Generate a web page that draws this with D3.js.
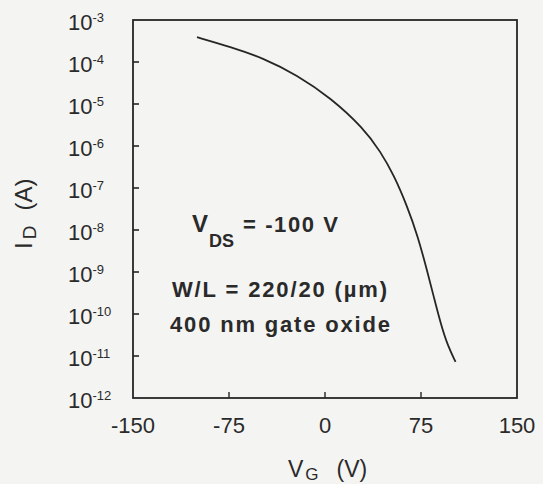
<!DOCTYPE html>
<html>
<head>
<meta charset="utf-8">
<script src="https://cdn.jsdelivr.net/npm/d3@7"></script>
<style>
  html, body { margin: 0; padding: 0; background: #f4f4f2; }
  svg { display: block; font-family: "Liberation Sans", Arial, sans-serif; }
  text { fill: #2a2a2a; }
</style>
</head>
<body>
<svg id="chart" width="543" height="484"></svg>
<script>
// gate voltage (V) and drain current (log10 A)
const vg = [-100, -74, -48, -22, 4.3, 30.2, 43.5, 53.9, 64.4, 72.2, 80.1, 85.2, 90.5, 95.7, 102];
const logId = [-3.41, -3.64, -3.91, -4.31, -4.85, -5.58, -6.14, -6.7, -7.45, -8.12, -9.0, -9.62, -10.24, -10.74, -11.14];

const xTicks = [-150, -75, 0, 75, 150];
const yExponents = [-3, -4, -5, -6, -7, -8, -9, -10, -11, -12];

const svg = d3.select('#chart');
const ink = '#262626';

const x = d3.scaleLinear().domain([-150, 150]).range([133, 517]);
const y = d3.scaleLog().domain([1e-12, 1e-3]).range([398, 20]);

// frame
svg.append('rect')
  .attr('x', x(-150)).attr('y', y(1e-3))
  .attr('width', x(150) - x(-150)).attr('height', y(1e-12) - y(1e-3))
  .attr('fill', 'none').attr('stroke', ink).attr('stroke-width', 1.8);

// y ticks (inward) + labels
const yg = svg.append('g');
yg.selectAll('line')
  .data(yExponents.slice(1, -1))
  .join('line')
  .attr('x1', x(-150)).attr('x2', x(-150) + 6)
  .attr('y1', d => y(Math.pow(10, d))).attr('y2', d => y(Math.pow(10, d)))
  .attr('stroke', ink).attr('stroke-width', 1.6);

const yl = yg.selectAll('text')
  .data(yExponents)
  .join('text')
  .attr('x', 68)
  .attr('y', d => y(Math.pow(10, d)) + 10)
  .attr('font-size', 22);
yl.append('tspan').text('10');
yl.append('tspan').attr('dy', -8).attr('font-size', 13).text(d => '-' + Math.abs(d));

// x ticks (inward) + labels
const xg = svg.append('g');
xg.selectAll('line')
  .data(xTicks.slice(1, -1))
  .join('line')
  .attr('x1', d => x(d)).attr('x2', d => x(d))
  .attr('y1', y(1e-12)).attr('y2', y(1e-12) - 6)
  .attr('stroke', ink).attr('stroke-width', 1.4);
xg.selectAll('text')
  .data(xTicks)
  .join('text')
  .attr('x', d => x(d))
  .attr('y', 433)
  .attr('text-anchor', 'middle')
  .attr('font-size', 22)
  .text(d => d);

// curve
const line = d3.line()
  .x((d, i) => x(vg[i]))
  .y(d => y(Math.pow(10, d)))
  .curve(d3.curveBasis);
svg.append('path')
  .datum(logId)
  .attr('d', line)
  .attr('fill', 'none')
  .attr('stroke', ink)
  .attr('stroke-width', 1.8);

// axis titles
const xt = svg.append('text').attr('x', 288).attr('y', 477).attr('font-size', 23);
xt.append('tspan').text('V');
xt.append('tspan').attr('dy', 3).attr('dx', 2).attr('font-size', 17).text('G');
xt.append('tspan').attr('dy', -3).attr('dx', 18).text('(V)');

const yt = svg.append('text')
  .attr('transform', 'translate(32,249) rotate(-90)')
  .attr('font-size', 24);
yt.append('tspan').text('I');
yt.append('tspan').attr('dy', 4).attr('dx', 3).attr('font-size', 19).text('D');
yt.append('tspan').attr('dy', -4).attr('dx', 15).text('(A)');

// annotations
const a1 = svg.append('text').attr('x', 192).attr('y', 232).attr('font-size', 24).attr('font-weight', 'bold');
a1.append('tspan').text('V');
a1.append('tspan').attr('dy', 15).attr('dx', 1).attr('font-size', 18).text('DS');
svg.append('text').attr('x', 243).attr('y', 232).attr('font-size', 22).attr('font-weight', 'bold')
  .attr('textLength', 95).text('= -100 V');

svg.append('text').attr('x', 172).attr('y', 297).attr('font-size', 22).attr('font-weight', 'bold')
  .attr('textLength', 215).text('W/L = 220/20 (\u00b5m)');
svg.append('text').attr('x', 170).attr('y', 332).attr('font-size', 22).attr('font-weight', 'bold')
  .attr('textLength', 220).text('400 nm gate oxide');
</script>
</body>
</html>
